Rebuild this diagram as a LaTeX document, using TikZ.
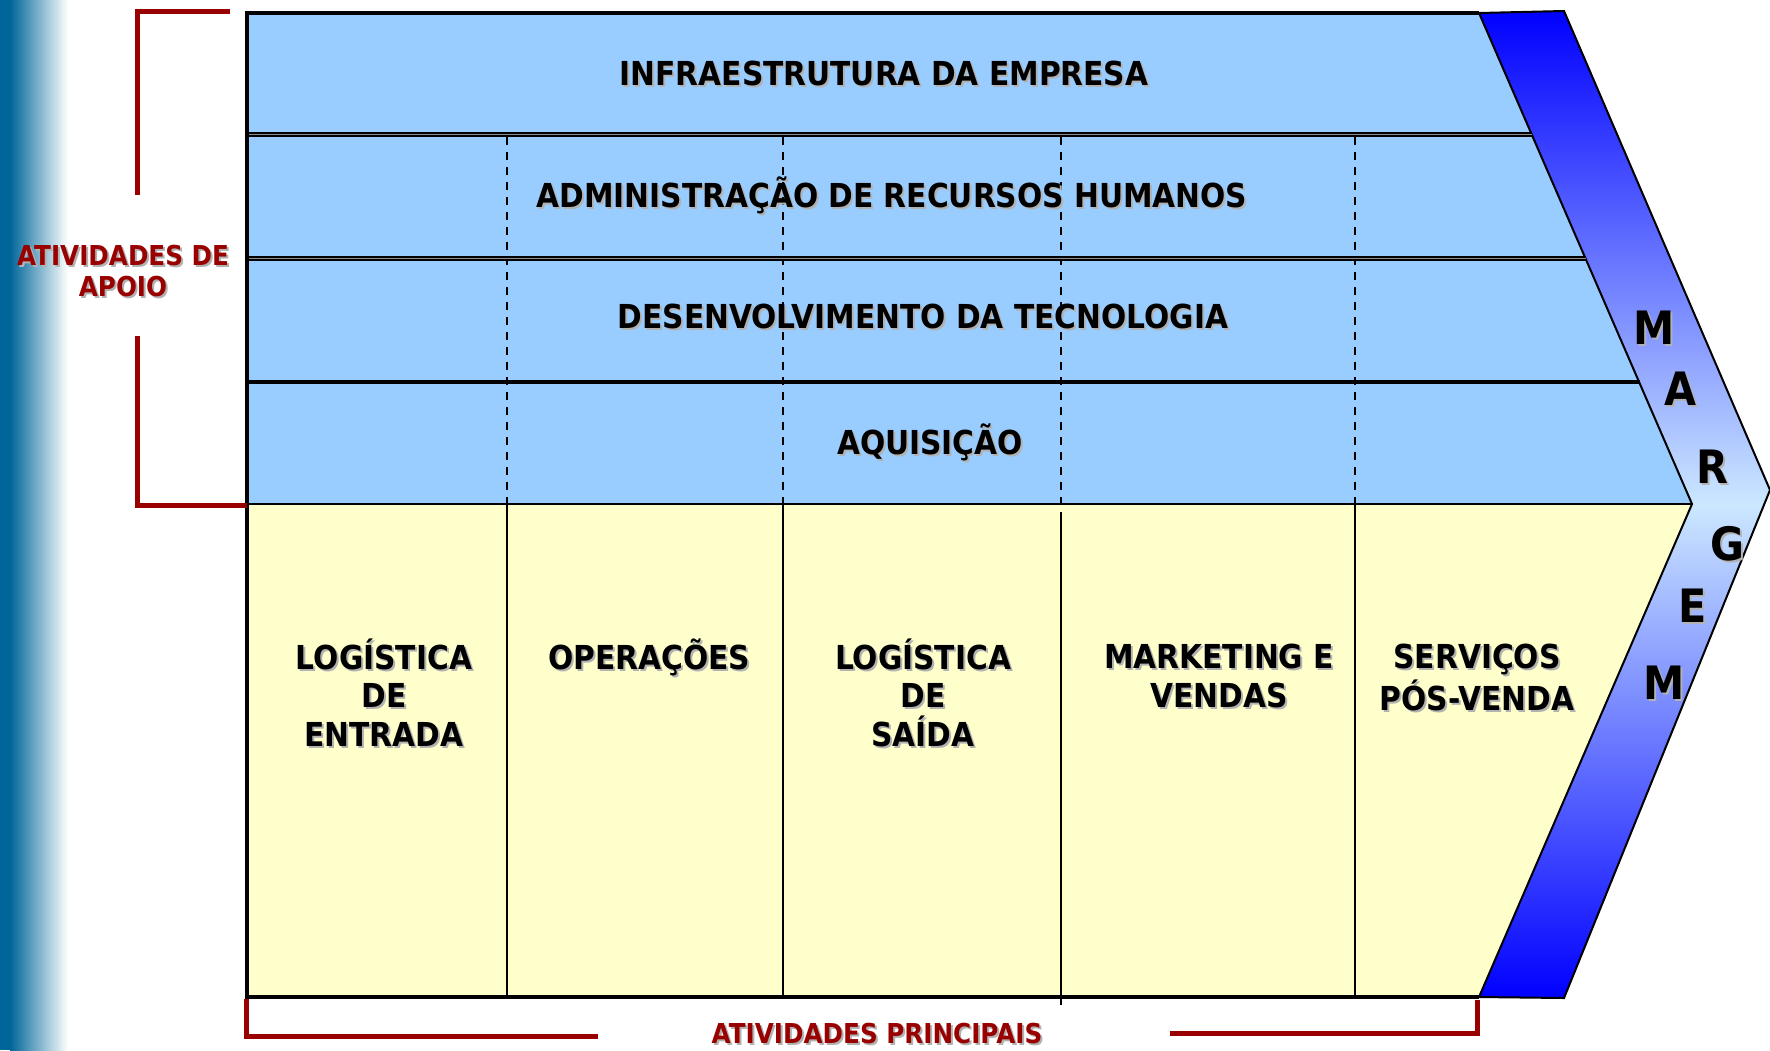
\documentclass[tikz,border=0pt]{standalone}
\usepackage{fontspec}
\setmainfont{DejaVu Sans}[FakeStretch=0.9]
\definecolor{supblue}{HTML}{99CCFF}
\definecolor{priyel}{HTML}{FFFFCC}
\definecolor{brk}{HTML}{990000}
\definecolor{barblue}{HTML}{006699}
\definecolor{bandlight}{HTML}{CCE8FF}
\definecolor{bandblue}{HTML}{0000FF}
\newcommand\shd[1]{\makebox[0pt][l]{\kern1pt\raisebox{-1pt}{\textcolor{black!30}{#1}}}#1}
\newcommand\lblfont{\fontsize{16.5}{19.2}\selectfont\bfseries}
\newcommand\redfont{\fontsize{13.7}{15.5}\selectfont\bfseries}
\newcommand\bigfont{\fontsize{23}{27}\selectfont\bfseries}
\begin{document}
\begin{tikzpicture}[x=0.5pt,y=-0.5pt,
  lbl/.style={font=\lblfont, align=center, inner sep=0pt, anchor=base},
  redlbl/.style={font=\redfont, text=brk, align=center, inner sep=0pt, anchor=base},
  letter/.style={font=\bigfont, inner sep=0pt, anchor=base},
  dashline/.style={line width=1pt, dash pattern=on 4pt off 3.5pt},
  dblline/.style={line width=1pt, double=black!45, double distance=0.5pt},
  bracket/.style={draw=brk, line width=2.5pt}]
\useasboundingbox (0,0) rectangle (1770,1050);
% left gradient bar
\fill[barblue] (0,0) rectangle (10,1050);
\shade[left color=barblue, right color=white] (10,0) rectangle (68,1050);
% fills
\fill[supblue] (247,13) -- (1479,13) -- (1692,504) -- (247,504) -- cycle;
\fill[priyel] (247,504) -- (1692,504) -- (1479,997) -- (247,997) -- cycle;
% margin band
\shadedraw[top color=bandblue, bottom color=bandblue, middle color=bandlight, draw=black, line width=1pt]
  (1479,13) -- (1564,11) -- (1770,490) -- (1564,998) -- (1479,997) -- (1692,504) -- cycle;
% dashed column lines in support activities
\foreach \x in {507,783,1061,1355} \draw[dashline] (\x,137) -- (\x,503);
% solid column lines in primary activities
\foreach \x in {507,783,1355} \draw[line width=1pt] (\x,504) -- (\x,997);
\draw[line width=1pt] (1061,512) -- (1061,1005);
% row lines
\draw[dblline] (247,134) -- (1532,134);
\draw[dblline] (247,258) -- (1586,258);
\draw[line width=2pt] (247,382) -- (1640,382);
\draw[line width=1pt] (247,504) -- (1692,504);
% outer frame
\draw[line width=2.2pt] (1479,13) -- (247,13) -- (247,997) -- (1479,997);
% brackets
\draw[bracket] (230,11) -- (137,11) -- (137,195);
\draw[bracket] (137,336) -- (137,505) -- (247,505);
\draw[bracket] (246,999) -- (246,1036) -- (598,1036);
\draw[bracket] (1170,1033) -- (1477,1033) -- (1477,1000);
% support activity labels
\node[lbl] (infra) at (884,85) {\shd{INFRAESTRUTURA DA EMPRESA}};
\node[lbl] (rh) at (892,207) {\shd{ADMINISTRAÇÃO DE RECURSOS HUMANOS}};
\node[lbl] (tec) at (923,328) {\shd{DESENVOLVIMENTO DA TECNOLOGIA}};
\node[lbl] (aqui) at (930,454) {\shd{AQUISIÇÃO}};
% primary activity labels (base anchor = last line)
\node[lbl] (le) at (384,746) {\shd{LOGÍSTICA}\\\shd{DE}\\\shd{ENTRADA}};
\node[lbl] (op) at (649,669) {\shd{OPERAÇÕES}};
\node[lbl] (ls) at (923,746) {\shd{LOGÍSTICA}\\\shd{DE}\\\shd{SAÍDA}};
\node[lbl] (mv) at (1219,707) {\shd{MARKETING E}\\\shd{VENDAS}};
\node[lbl] (spv) at (1477,710) {\shd{SERVIÇOS}\\\shd{PÓS-VENDA}};
% margin letters
\node[letter] (m1) at (1654,344) {\shd{M}};
\node[letter] (m2) at (1680,405) {\shd{A}};
\node[letter] (m3) at (1712,483) {\shd{R}};
\node[letter] (m4) at (1727,560) {\shd{G}};
\node[letter] (m5) at (1693,622) {\shd{E}};
\node[letter] (m6) at (1664,699) {\shd{M}};
% bracket labels
\node[redlbl] (apoio) at (123,296) {\shd{ATIVIDADES DE}\\\shd{APOIO}};
\node[redlbl] (princ) at (877,1043) {\shd{ATIVIDADES PRINCIPAIS}};
\end{tikzpicture}
\end{document}
